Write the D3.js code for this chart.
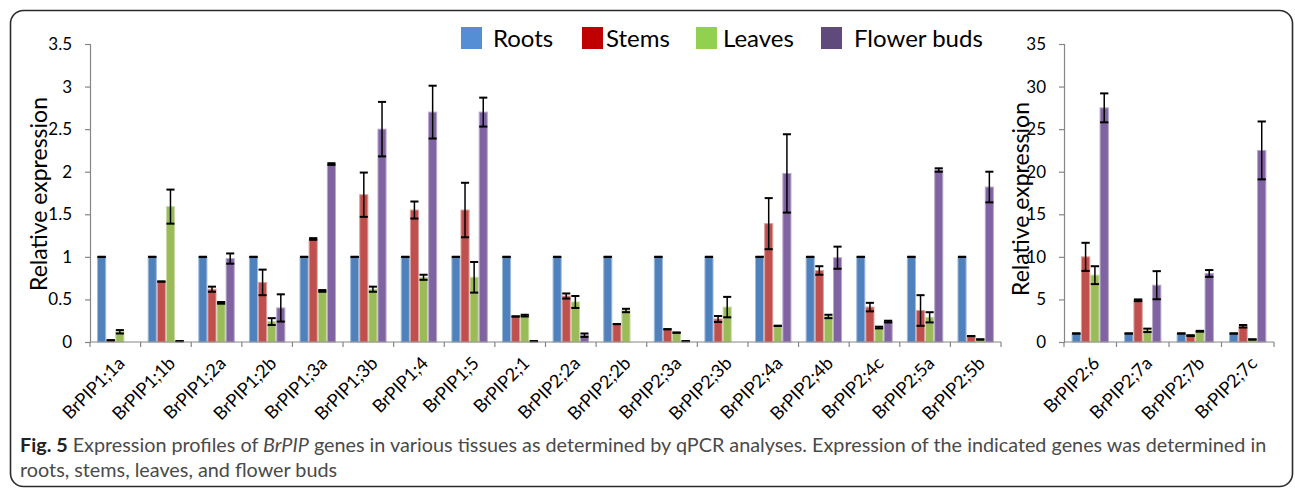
<!DOCTYPE html>
<html>
<head>
<meta charset="utf-8">
<script src="https://cdn.jsdelivr.net/npm/d3@7"></script>
<style>
  body { margin: 0; background: #fff; }
  svg { display: block; }
</style>
</head>
<body>
<svg id="chart" width="1295" height="490"></svg>
<script>
// Tissues (series) and their colours
const tissues = ["Roots", "Stems", "Leaves", "Flower buds"];
const barColors = ["#4F81BD", "#C0504D", "#9BBB59", "#8064A2"];
const legendColors = ["#558ED5", "#C00000", "#92D050", "#604A7B"];

// Left panel: BrPIP genes with low expression
const genesA = ["BrPIP1;1a", "BrPIP1;1b", "BrPIP1;2a", "BrPIP1;2b", "BrPIP1;3a", "BrPIP1;3b",
  "BrPIP1;4", "BrPIP1;5", "BrPIP2;1", "BrPIP2;2a", "BrPIP2;2b", "BrPIP2;3a", "BrPIP2;3b",
  "BrPIP2;4a", "BrPIP2;4b", "BrPIP2;4c", "BrPIP2;5a", "BrPIP2;5b"];
const rootsA     = [1, 1, 1, 1, 1, 1, 1, 1, 1, 1, 1, 1, 1, 1, 1, 1, 1, 1];
const rootsAErr  = [0, 0, 0, 0, 0, 0, 0, 0, 0, 0, 0, 0, 0, 0, 0, 0, 0, 0];
const stemsA     = [0.02, 0.71, 0.62, 0.70, 1.21, 1.73, 1.55, 1.55, 0.30, 0.54, 0.21, 0.15, 0.27, 1.39, 0.84, 0.41, 0.37, 0.07];
const stemsAErr  = [0, 0, 0.03, 0.15, 0.01, 0.26, 0.10, 0.32, 0, 0.03, 0, 0, 0.035, 0.30, 0.05, 0.05, 0.18, 0];
const leavesA    = [0.12, 1.59, 0.46, 0.24, 0.60, 0.62, 0.76, 0.76, 0.31, 0.47, 0.37, 0.11, 0.41, 0.19, 0.30, 0.17, 0.29, 0.03];
const leavesAErr = [0.02, 0.20, 0.01, 0.04, 0.01, 0.03, 0.03, 0.18, 0.01, 0.07, 0.02, 0, 0.12, 0, 0.02, 0.01, 0.06, 0];
const budsA      = [0, 0.01, 0.98, 0.40, 2.09, 2.50, 2.70, 2.70, 0.01, 0.08, 0, 0.01, 0, 1.98, 0.99, 0.24, 2.02, 1.82];
const budsAErr   = [0, 0, 0.06, 0.16, 0.01, 0.32, 0.31, 0.17, 0, 0.02, 0, 0, 0, 0.46, 0.13, 0.01, 0.02, 0.18];
const ticksA = [0, 0.5, 1, 1.5, 2, 2.5, 3, 3.5];

// Right panel: BrPIP genes with high expression in flower buds
const genesB = ["BrPIP2;6", "BrPIP2;7a", "BrPIP2;7b", "BrPIP2;7c"];
const rootsB     = [1, 1, 1, 1];
const rootsBErr  = [0, 0, 0, 0];
const stemsB     = [10, 4.9, 0.75, 1.85];
const stemsBErr  = [1.65, 0.1, 0.05, 0.15];
const leavesB    = [7.85, 1.37, 1.26, 0.3];
const leavesBErr = [1.05, 0.2, 0.05, 0];
const budsB      = [27.5, 6.67, 8.05, 22.5];
const budsBErr   = [1.7, 1.65, 0.4, 3.4];
const ticksB = [0, 5, 10, 15, 20, 25, 30, 35];

const svg = d3.select("#chart");
const FONT = "Lato, 'Liberation Sans', sans-serif";
const AXIS = "#868686";

// Outer rounded frame
svg.append("rect")
  .attr("x", 10.5).attr("y", 10.5)
  .attr("width", 1282).attr("height", 476)
  .attr("rx", 13).attr("ry", 13)
  .attr("fill", "#fff").attr("stroke", "#2b2b2b").attr("stroke-width", 1.6);

function drawPanel(opt) {
  const g = svg.append("g");
  const y = d3.scaleLinear().domain([0, opt.ticks[opt.ticks.length - 1]]).range([342, 44]);
  const x0 = d3.scaleBand().domain(opt.genes).range(opt.xRange)
    .paddingInner(opt.pad).paddingOuter(opt.pad / 2);
  const x1 = d3.scaleBand().domain(tissues).range([0, x0.bandwidth()]);

  const rows = opt.genes.map((gene, i) => ({
    gene,
    vals: opt.series.map((s, k) => ({ tissue: tissues[k], k, v: s.values[i], e: s.errors[i] }))
  }));

  // Bars
  const grp = g.selectAll("g.gene").data(rows).join("g")
    .attr("class", "gene")
    .attr("transform", d => `translate(${x0(d.gene)},0)`);

  grp.selectAll("rect").data(d => d.vals).join("rect")
    .attr("x", d => x1(d.tissue) + 0.5)
    .attr("width", x1.bandwidth() - 1)
    .attr("y", d => y(d.v))
    .attr("height", d => y(0) - y(d.v))
    .attr("fill", d => barColors[d.k])
    .attr("stroke", d => d3.interpolateRgb(barColors[d.k], "#fff")(0.45))
    .attr("stroke-width", 1);

  // Error bars
  const eb = grp.selectAll("g.err").data(d => d.vals.filter(v => v.v > 0.005)).join("g")
    .attr("class", "err")
    .attr("transform", d => `translate(${x1(d.tissue) + x1.bandwidth() / 2},0)`);
  const capW = x1.bandwidth() - 1;
  eb.append("line")
    .attr("y1", d => y(d.v + d.e)).attr("y2", d => y(Math.max(0, d.v - d.e)))
    .attr("stroke", "#000").attr("stroke-width", 1.5);
  eb.append("line")
    .attr("x1", -capW / 2).attr("x2", capW / 2)
    .attr("y1", d => y(d.v + d.e)).attr("y2", d => y(d.v + d.e))
    .attr("stroke", "#000").attr("stroke-width", 2);
  eb.append("line")
    .attr("x1", -capW / 2).attr("x2", capW / 2)
    .attr("y1", d => y(Math.max(0, d.v - d.e))).attr("y2", d => y(Math.max(0, d.v - d.e)))
    .attr("stroke", "#000").attr("stroke-width", 2);

  // Y axis
  const yAxis = g.append("g")
    .attr("transform", `translate(${opt.xRange[0]},0)`)
    .call(d3.axisLeft(y).tickValues(opt.ticks).tickSize(5).tickPadding(13)
      .tickFormat(d => String(+d.toFixed(1))));
  yAxis.select(".domain").attr("stroke", AXIS).attr("stroke-width", 1.2);
  yAxis.selectAll(".tick line").attr("stroke", AXIS).attr("stroke-width", 1.2);
  yAxis.selectAll(".tick text").attr("fill", "#000")
    .style("font-family", FONT).style("font-size", "17px");

  // X axis: line with ticks between categories
  const step = x0.step();
  const x0start = opt.xRange[0];
  const xAxis = g.append("g");
  xAxis.append("line")
    .attr("x1", opt.xRange[0]).attr("x2", opt.xRange[1])
    .attr("y1", y(0)).attr("y2", y(0))
    .attr("stroke", AXIS).attr("stroke-width", 1.2);
  xAxis.selectAll("line.tk").data(d3.range(opt.genes.length + 1)).join("line")
    .attr("class", "tk")
    .attr("x1", i => x0start + i * step).attr("x2", i => x0start + i * step)
    .attr("y1", y(0)).attr("y2", y(0) + 5)
    .attr("stroke", AXIS).attr("stroke-width", 1.2);
  xAxis.selectAll("text").data(opt.genes).join("text")
    .attr("transform", d => `translate(${x0(d) + x0.bandwidth() / 2 + 6},${y(0) + 18}) rotate(-45)`)
    .attr("text-anchor", "end")
    .attr("dy", "0.35em")
    .style("font-family", FONT).style("font-size", "18px")
    .attr("fill", "#000")
    .text(d => d);

  // Y axis title
  g.append("text")
    .attr("transform", `translate(${opt.titleX},${opt.titleY}) rotate(-90)`)
    .attr("text-anchor", "middle")
    .style("font-family", FONT).style("font-size", "23px")
    .attr("fill", "#000")
    .text("Relative expression");
}

drawPanel({
  genes: genesA,
  series: [
    { values: rootsA, errors: rootsAErr },
    { values: stemsA, errors: stemsAErr },
    { values: leavesA, errors: leavesAErr },
    { values: budsA, errors: budsAErr }
  ],
  ticks: ticksA, xRange: [90, 1001], pad: 0.28, titleX: 47, titleY: 194
});

drawPanel({
  genes: genesB,
  series: [
    { values: rootsB, errors: rootsBErr },
    { values: stemsB, errors: stemsBErr },
    { values: leavesB, errors: leavesBErr },
    { values: budsB, errors: budsBErr }
  ],
  ticks: ticksB, xRange: [1064, 1274], pad: 0.29, titleX: 1029, titleY: 199
});

// Legend
const legendX = [461, 582, 696, 821];
const legendTextX = [493, 606, 723, 854];
const legend = svg.append("g");
tissues.forEach((t, i) => {
  legend.append("rect")
    .attr("x", legendX[i]).attr("y", 27).attr("width", 21).attr("height", 22)
    .attr("fill", legendColors[i]);
  legend.append("text")
    .attr("x", legendTextX[i]).attr("y", 47)
    .style("font-family", FONT).style("font-size", "24px")
    .attr("fill", "#000")
    .text(t);
});

// Figure caption
const cap = svg.append("g").style("font-family", FONT).style("font-size", "19.8px");
const line1 = cap.append("text").attr("x", 20).attr("y", 452).attr("fill", "#4a4a4a");
line1.append("tspan").style("font-weight", "bold").attr("fill", "#222").text("Fig. 5");
line1.append("tspan").text(" Expression profiles of ");
line1.append("tspan").style("font-style", "italic").text("BrPIP");
line1.append("tspan").text(" genes in various tissues as determined by qPCR analyses. Expression of the indicated genes was determined in");
cap.append("text").attr("x", 20).attr("y", 477).attr("fill", "#4a4a4a")
  .text("roots, stems, leaves, and flower buds");
</script>
</body>
</html>
